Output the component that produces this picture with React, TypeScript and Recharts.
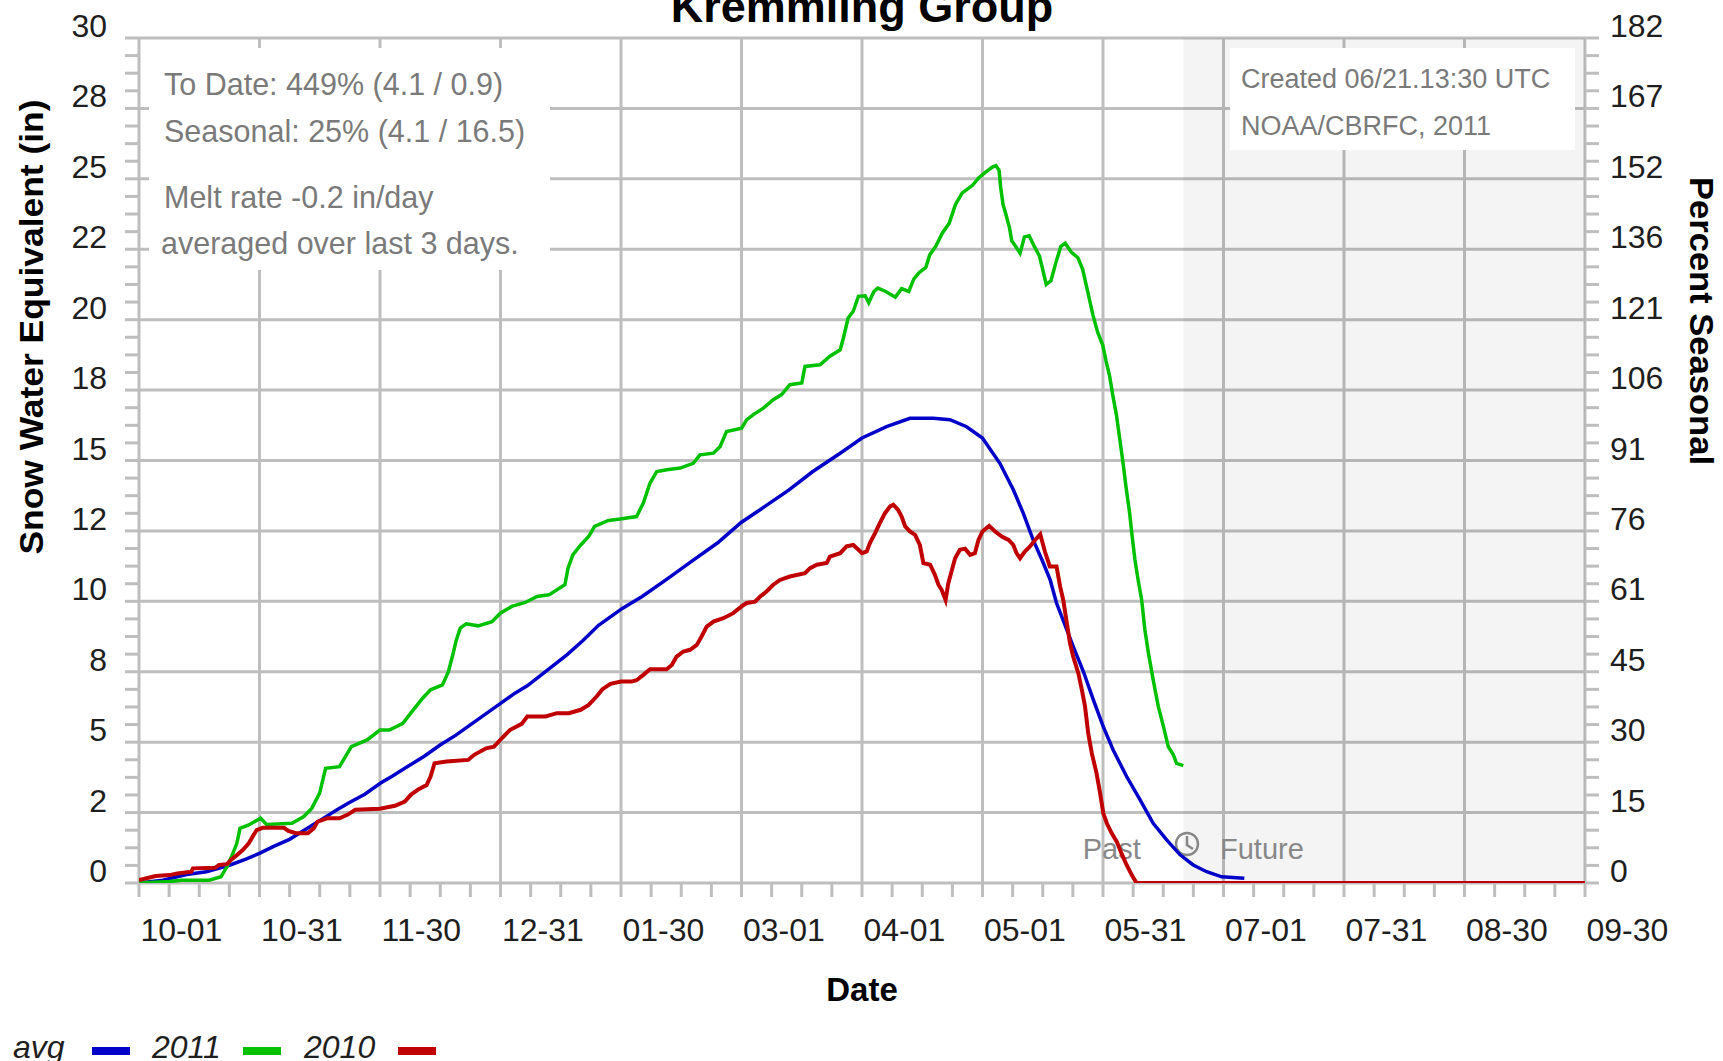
import React from 'react';
import { LineChart, Line, XAxis, YAxis, CartesianGrid, ReferenceArea, ReferenceLine } from 'recharts';

const FONT = '"Liberation Sans", Arial, Helvetica, sans-serif';
const GRID = '#bebebe';

// water year 10-01 .. 09-30, x = days since Oct 1
const DAYS = 365;
const TODAY = 263.6;
const dateLabels = ['10-01', '10-31', '11-30', '12-31', '01-30', '03-01', '04-01', '05-01', '05-31', '07-01', '07-31', '08-30', '09-30'];
const sweMajorTicks = [0, 2.5, 5, 7.5, 10, 12.5, 15, 17.5, 20, 22.5, 25, 27.5, 30];
const sweLabels = ['0', '2', '5', '8', '10', '12', '15', '18', '20', '22', '25', '28', '30'];
const pctLabels = ['0', '15', '30', '45', '61', '76', '91', '106', '121', '136', '152', '167', '182'];

// [day, inches]
const avgSwe: [number, number][] = [
  [0, 0], [6, 0.1], [12, 0.3], [17, 0.4], [23, 0.64], [27, 0.85], [30.4, 1.05], [34, 1.3], [38, 1.55], [42, 1.9],
  [46, 2.25], [50, 2.6], [53, 2.85], [57, 3.15], [61, 3.55], [64, 3.8], [68, 4.15], [72, 4.5], [76, 4.9], [80, 5.25],
  [83, 5.55], [87, 5.95], [91, 6.35], [95, 6.75], [98, 7.0], [103, 7.55], [108, 8.1], [112, 8.6], [116, 9.15], [122, 9.75],
  [127, 10.17], [133, 10.76], [140, 11.47], [146, 12.07], [152, 12.8], [158, 13.37], [164, 13.95], [170, 14.6], [177, 15.26], [182.5, 15.8],
  [188.7, 16.2], [194.6, 16.5], [200.5, 16.5], [204.7, 16.45], [208.9, 16.2], [212.9, 15.8], [217.3, 14.9], [220.7, 13.96], [223.2, 13.13], [225.7, 12.18],
  [228, 11.45], [230, 10.76], [231.6, 9.94], [233.7, 9.17], [235.8, 8.4], [238.4, 7.5], [240.9, 6.5], [243.4, 5.55], [245.9, 4.72], [249.3, 3.78],
  [252.7, 2.95], [256, 2.12], [259.4, 1.53], [262.8, 1.0], [266.1, 0.64], [269.5, 0.4], [273.3, 0.22], [279, 0.17],
];

const wy2011Swe: [number, number][] = [
  [0, 0], [7.7, 0.05], [10.7, 0.1], [17.7, 0.1], [20.7, 0.22], [22.2, 0.58], [23.7, 1.05], [24.7, 1.41], [25.5, 1.94], [27.7, 2.06],
  [30.7, 2.3], [32.2, 2.08], [38.6, 2.12], [41.6, 2.36], [43.6, 2.65], [45.6, 3.19], [47.1, 4.07], [50.6, 4.13], [52.1, 4.49], [53.6, 4.84],
  [57.6, 5.08], [60.8, 5.43], [63.2, 5.43], [66.6, 5.67], [68.6, 6.03], [71.6, 6.56], [73.6, 6.86], [76.6, 7.03], [78.1, 7.5], [79.1, 8.04],
  [80.1, 8.63], [81.1, 9.05], [82.6, 9.2], [85.6, 9.13], [89.1, 9.28], [91.2, 9.58], [94.1, 9.82], [97.5, 9.96], [100.5, 10.17], [103.5, 10.23],
  [105.5, 10.41], [107.5, 10.59], [108.3, 11.18], [109.5, 11.65], [111.5, 12.0], [113.5, 12.3], [115, 12.66], [118.5, 12.87], [121.4, 12.92], [125.6, 13.01],
  [127.3, 13.49], [129, 14.2], [130.7, 14.61], [133.2, 14.67], [136.6, 14.73], [139.9, 14.9], [141.6, 15.2], [145, 15.26], [146.7, 15.5], [148.3, 16.03],
  [152.1, 16.15], [153.4, 16.45], [155.1, 16.63], [157.6, 16.86], [160.1, 17.16], [162.2, 17.34], [164.3, 17.69], [167.3, 17.75], [168.1, 18.34], [171.9, 18.4],
  [174.4, 18.7], [177, 18.93], [177.8, 19.35], [179, 20.06], [180.3, 20.3], [181.6, 20.83], [183.3, 20.85], [184.2, 20.6], [185.5, 21.0], [186.5, 21.12],
  [188.5, 21.0], [190.9, 20.8], [192.5, 21.1], [194.3, 21.0], [195.6, 21.45], [197, 21.68], [198.6, 21.85], [199.6, 22.3], [201.1, 22.6], [202.8, 23.08],
  [204.5, 23.42], [206.1, 24.09], [207.8, 24.5], [210.4, 24.77], [212, 25.04], [213.7, 25.24], [215.4, 25.42], [216.3, 25.47], [217.1, 25.3], [217.5, 24.7],
  [218.1, 24.09], [218.8, 23.75], [219.7, 23.28], [220.3, 22.8], [221.3, 22.6], [222.4, 22.36], [223.5, 22.94], [224.7, 22.98], [226, 22.6], [227.3, 22.26],
  [228.1, 21.79], [229, 21.25], [230.2, 21.38], [231.5, 22.06], [232.7, 22.6], [233.8, 22.71], [235.3, 22.4], [237, 22.2], [238.2, 21.79], [239.5, 20.98],
  [240.8, 20.16], [242, 19.55], [243.3, 19.08], [244.1, 18.54], [245, 18.0], [245.8, 17.32], [246.7, 16.64], [247.5, 15.83], [248.4, 14.9], [249.2, 14.0],
  [250, 13.2], [250.6, 12.42], [251.4, 11.47], [252.2, 10.76], [253.1, 10.05], [253.9, 8.99], [254.8, 8.16], [256, 7.21], [257.3, 6.26], [258.6, 5.55],
  [259.8, 4.84], [261.1, 4.55], [261.9, 4.25], [263.6, 4.17],
];

const wy2010Swe: [number, number][] = [
  [0, 0.1], [4.2, 0.25], [7.7, 0.28], [9.7, 0.34], [13.2, 0.4], [13.6, 0.52], [19.2, 0.54], [20.2, 0.64], [22.2, 0.67], [23.2, 0.82],
  [24.7, 0.99], [26.2, 1.17], [27.7, 1.41], [28.7, 1.65], [29.7, 1.88], [31.2, 1.96], [36.6, 1.96], [37.7, 1.85], [39.6, 1.77], [42.6, 1.77],
  [44.1, 1.94], [45.1, 2.18], [47.6, 2.3], [50.6, 2.3], [52.6, 2.42], [54.6, 2.6], [60.8, 2.64], [64.6, 2.74], [67.1, 2.89], [68.6, 3.13],
  [70.6, 3.33], [72.6, 3.48], [73.6, 3.78], [74.6, 4.25], [77.6, 4.31], [83.1, 4.37], [84.6, 4.55], [87.6, 4.78], [89.6, 4.84], [91.2, 5.08],
  [93.6, 5.43], [96.6, 5.65], [98, 5.91], [102.6, 5.91], [105.5, 6.03], [108.5, 6.03], [111.5, 6.15], [113.5, 6.32], [115.5, 6.62], [117, 6.88],
  [119, 7.07], [121.7, 7.15], [124.3, 7.15], [125.6, 7.2], [127.3, 7.39], [129, 7.59], [133.2, 7.59], [134.5, 7.74], [135.7, 8.04], [137.4, 8.22],
  [139.1, 8.28], [140.8, 8.45], [142, 8.75], [143.3, 9.1], [145, 9.28], [147.5, 9.4], [150, 9.58], [152.1, 9.82], [153.4, 9.94], [155.5, 9.99],
  [156.8, 10.17], [158.4, 10.35], [160.1, 10.59], [161.8, 10.76], [164.3, 10.88], [168.1, 11.0], [169.4, 11.18], [171.1, 11.3], [173.6, 11.36], [174.4, 11.59],
  [177, 11.71], [178.6, 11.95], [180.3, 12.0], [181.6, 11.83], [182.5, 11.71], [183.7, 11.77], [184.5, 12.07], [185.8, 12.42], [187, 12.78], [188.3, 13.13],
  [189.6, 13.37], [190.4, 13.43], [191.6, 13.25], [192.5, 13.01], [193.4, 12.66], [194.6, 12.48], [195.9, 12.36], [197.1, 12.0], [198, 11.36], [199.7, 11.3],
  [200.9, 10.94], [201.8, 10.59], [202.6, 10.41], [203.6, 10.05], [204.3, 10.65], [205.1, 11.06], [206, 11.53], [207.2, 11.83], [208.5, 11.87], [209.8, 11.65],
  [211, 11.71], [211.9, 12.18], [212.9, 12.48], [214.6, 12.68], [216.1, 12.48], [217.8, 12.3], [219.5, 12.18], [220.7, 12.0], [221.5, 11.71], [222.4, 11.53],
  [223.6, 11.77], [224.9, 11.95], [226.2, 12.18], [227.5, 12.38], [228.7, 11.75], [229.9, 11.24], [231.6, 11.24], [232.5, 10.53], [233.3, 10.05], [234.2, 9.23],
  [235, 8.52], [235.8, 8.04], [237.1, 7.45], [238, 6.86], [238.8, 6.26], [239.6, 5.32], [240.5, 4.61], [241.7, 3.9], [242.6, 3.19], [243.4, 2.48],
  [244.3, 2.12], [245.5, 1.77], [246.8, 1.47], [248, 1.05], [249.3, 0.64], [250.6, 0.28], [251.8, 0], [365, 0],
];

const series = [
  { name: 'avg', color: '#0000c8', points: avgSwe },
  { name: '2011', color: '#00c000', points: wy2011Swe },
  { name: '2010', color: '#c00000', points: wy2010Swe },
];

const dayMajorTicks = dateLabels.map((_, i) => (i * DAYS) / 12);
const dayMinorTicks = Array.from({ length: 49 }, (_, i) => (i * DAYS) / 48);
const sweMinorTicks = Array.from({ length: 49 }, (_, i) => i * 0.625);

const toRows = (pts: [number, number][]) => pts.map(([day, swe]) => ({ day, swe }));

const tickText = { fontSize: 32, fontFamily: FONT, fill: '#1e1e1e' };

function DayTick({ x, payload }: any) {
  const idx = Math.round(payload.value / (DAYS / 48));
  if (idx % 4 !== 0) return <g />;
  return (
    <text x={x + 1.5} y={941} textAnchor="start" {...tickText}>
      {dateLabels[idx / 4]}
    </text>
  );
}

function SweTick({ y, payload }: any) {
  const idx = Math.round(payload.value / 0.625);
  if (idx % 4 !== 0) return <g />;
  return (
    <text x={107} y={y - 1} textAnchor="end" {...tickText}>
      {sweLabels[idx / 4]}
    </text>
  );
}

function PctTick({ y, payload }: any) {
  const idx = Math.round(payload.value / 0.625);
  if (idx % 4 !== 0) return <g />;
  return (
    <text x={1610} y={y - 1} textAnchor="start" {...tickText}>
      {pctLabels[idx / 4]}
    </text>
  );
}

// "Past (clock) Future" marker at the forecast date, drawn above grid and below curves
function PastFutureMark({ viewBox }: any) {
  if (!viewBox) return null;
  const x = viewBox.x;
  const bottom = viewBox.y + viewBox.height;
  const base = bottom - 24;
  return (
    <g>
      <text x={x - 100.6} y={base} fontSize={29} fontFamily={FONT} fill="#888">Past</text>
      <text x={x + 36.7} y={base} fontSize={29} fontFamily={FONT} fill="#888">Future</text>
      <circle cx={x + 3.7} cy={base - 15} r={11} fill="none" stroke="#888" strokeWidth={2.5} />
      <path d={`M${x + 3.7} ${base - 23} L${x + 3.7} ${base - 14} L${x + 9.7} ${base - 10}`} fill="none" stroke="#888" strokeWidth={2.5} />
    </g>
  );
}

function Overlay() {
  const note = { fontFamily: FONT, fill: '#7a7a7a' };
  const bold = { fontFamily: FONT, fontWeight: 'bold' as const, fill: '#000' };
  const legendX = [
    { tx: 13, sx: 92 },
    { tx: 152, sx: 243 },
    { tx: 304, sx: 398 },
  ];
  return (
    <svg width={1723} height={1061} style={{ position: 'absolute', left: 0, top: 0, pointerEvents: 'none' }}>
      <text x={862} y={21.5} textAnchor="middle" fontSize={45} {...bold}>Kremmling Group</text>

      <rect x={149} y={48} width={401} height={222} fill="#fff" />
      <text x={164} y={95} fontSize={30.5} {...note}>To Date: 449% (4.1 / 0.9)</text>
      <text x={164} y={141.5} fontSize={30.5} {...note}>Seasonal: 25% (4.1 / 16.5)</text>
      <text x={164} y={208} fontSize={30.5} {...note}>Melt rate -0.2 in/day</text>
      <text x={161} y={254} fontSize={30.5} {...note}>averaged over last 3 days.</text>

      <rect x={1230} y={48} width={345} height={102} fill="#fff" />
      <text x={1241} y={88} fontSize={27} {...note}>Created 06/21.13:30 UTC</text>
      <text x={1241} y={135} fontSize={27} {...note}>NOAA/CBRFC, 2011</text>

      <text transform="translate(43,327) rotate(-90)" textAnchor="middle" fontSize={34} textLength={455} lengthAdjust="spacingAndGlyphs" {...bold}>
        Snow Water Equivalent (in)
      </text>
      <text transform="translate(1690,321) rotate(90)" textAnchor="middle" fontSize={34} textLength={288} lengthAdjust="spacingAndGlyphs" {...bold}>
        Percent Seasonal
      </text>
      <text x={862} y={1001} textAnchor="middle" fontSize={33} {...bold}>Date</text>

      {series.map((s, i) => (
        <g key={s.name}>
          <text x={legendX[i].tx} y={1058} fontSize={32} fontStyle="italic" fontFamily={FONT} fill="#1e1e1e">{s.name}</text>
          <rect x={legendX[i].sx} y={1047} width={38} height={8} fill={s.color} />
        </g>
      ))}
    </svg>
  );
}

export default function App() {
  const tickStroke = { stroke: GRID, strokeWidth: 3 };
  return (
    <div style={{ position: 'absolute', left: 0, top: 0, width: 1723, height: 1061, background: '#fff', overflow: 'hidden' }}>
      <LineChart width={1723} height={1061} margin={{ top: 38, right: 0, bottom: 0, left: 0 }}>
        <ReferenceArea x1={TODAY} x2={DAYS} y1={0} y2={30} fill="#000" fillOpacity={0.045} stroke="none" />
        <CartesianGrid
          horizontalValues={sweMajorTicks}
          verticalValues={dayMajorTicks}
          stroke={GRID}
          strokeWidth={3}
        />
        <ReferenceLine x={TODAY} stroke="none" label={(p: any) => <PastFutureMark {...p} />} />
        <XAxis
          type="number"
          dataKey="day"
          domain={[0, DAYS]}
          ticks={dayMinorTicks}
          interval={0}
          allowDataOverflow
          height={178}
          tickSize={14}
          tickLine={tickStroke}
          axisLine={false}
          tick={(p: any) => <DayTick {...p} />}
        />
        <YAxis
          domain={[0, 30]}
          ticks={sweMinorTicks}
          interval={0}
          allowDataOverflow
          width={139}
          tickSize={14}
          tickLine={tickStroke}
          axisLine={false}
          tick={(p: any) => <SweTick {...p} />}
        />
        <YAxis
          yAxisId="pct"
          orientation="right"
          domain={[0, 30]}
          ticks={sweMinorTicks}
          interval={0}
          allowDataOverflow
          width={138}
          tickSize={14}
          tickLine={tickStroke}
          axisLine={false}
          tick={(p: any) => <PctTick {...p} />}
        />
        {series.map((s) => (
          <Line
            key={s.name}
            data={toRows(s.points)}
            dataKey="swe"
            name={s.name}
            type="linear"
            stroke={s.color}
            strokeWidth={s.name === '2010' ? 4 : 3.5}
            dot={false}
            activeDot={false}
            isAnimationActive={false}
          />
        ))}
      </LineChart>
      <Overlay />
    </div>
  );
}
